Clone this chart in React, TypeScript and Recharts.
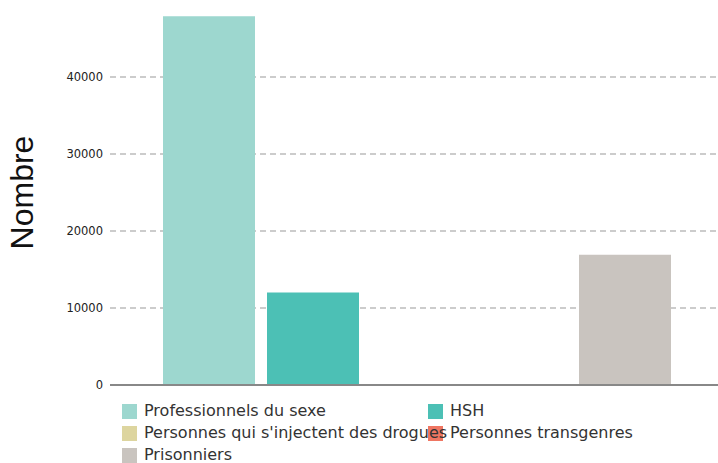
import React from 'react';
import { BarChart, Bar, XAxis, YAxis, CartesianGrid, Label } from 'recharts';

const categories = [''];
const seriesNames = [
  'Professionnels du sexe',
  'HSH',
  "Personnes qui s'injectent des drogues",
  'Personnes transgenres',
  'Prisonniers',
];
const seriesValues = [47900, 12000, 0, 0, 16900];
const yTicks = [0, 10000, 20000, 30000, 40000];

const colors = ['#9dd7cf', '#4cc0b5', '#ddd59f', '#ef7662', '#c9c4bf'];

const data = categories.map((name) => {
  const row: Record<string, string | number> = { name };
  seriesNames.forEach((s, i) => {
    row['s' + i] = seriesValues[i];
  });
  return row;
});

const font = '"DejaVu Sans", sans-serif';

function YLabel(props: any) {
  const { viewBox } = props;
  const x = viewBox.x + 22;
  const y = viewBox.y + viewBox.height / 2;
  return (
    <text
      x={x}
      y={y}
      transform={`rotate(-90, ${x}, ${y})`}
      textAnchor="middle"
      dominantBaseline="central"
      fontFamily='"Liberation Sans", Arial, sans-serif'
      fontSize={32}
      fill="#111"
    >
      Nombre
    </text>
  );
}

export default function App() {
  return (
    <div style={{ position: 'absolute', left: 0, top: 0, width: 718, height: 463, overflow: 'hidden', fontFamily: font }}>
      <BarChart
        width={723}
        height={463}
        data={data}
        margin={{ top: 0, right: 0, bottom: 77, left: 0 }}
        barCategoryGap={53}
        barGap={12}
      >
        <CartesianGrid vertical={false} horizontalValues={yTicks.slice(1)} stroke="#999" strokeDasharray="6 4" />
        <XAxis dataKey="name" height={1} tick={false} tickLine={false} axisLine={{ stroke: '#888', strokeWidth: 2 }} />
        <YAxis
          width={110}
          domain={[0, 50000]}
          ticks={yTicks}
          axisLine={false}
          tickLine={false}
          tickSize={0}
          tickMargin={7}
          tick={{ fill: '#222', fontSize: 11.5, fontFamily: font }}
        >
          <Label content={<YLabel />} />
        </YAxis>
        {seriesNames.map((s, i) => (
          <Bar key={s} dataKey={'s' + i} name={s} fill={colors[i]} isAnimationActive={false} />
        ))}
      </BarChart>
      {seriesNames.map((s, i) => (
        <div
          key={s}
          style={{
            position: 'absolute',
            left: 122 + (i % 2) * 306,
            top: 403 + Math.floor(i / 2) * 22,
            display: 'flex',
            alignItems: 'center',
            whiteSpace: 'nowrap',
            fontSize: 16,
            color: '#333',
            lineHeight: '16px',
            height: 16,
            zIndex: i % 2 === 0 ? 2 : 1,
          }}
        >
          <span style={{ display: 'inline-block', width: 15, height: 15, background: colors[i], marginRight: 7 }} />
          <span>{s}</span>
        </div>
      ))}
    </div>
  );
}
